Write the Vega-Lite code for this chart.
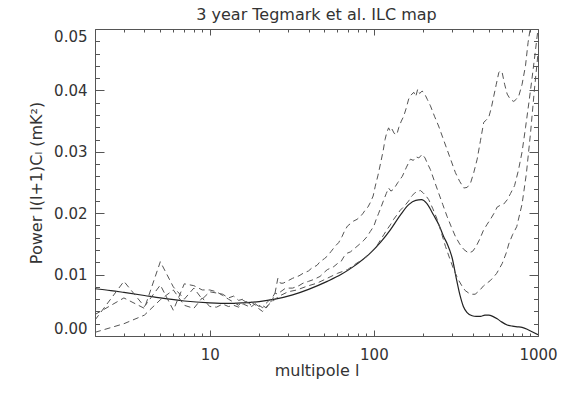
{
  "$schema": "https://vega.github.io/schema/vega-lite/v6.json",
  "width": 443,
  "height": 307,
  "autosize": {"type": "none"},
  "padding": {"left": 95, "top": 29, "right": 28, "bottom": 60},
  "background": "white",
  "title": {"text": "3 year Tegmark et al. ILC map", "font": "DejaVu Sans", "fontSize": 16, "fontWeight": "normal", "color": "#333", "offset": 6, "anchor": "middle"},
  "config": {
    "view": {"stroke": "#555", "strokeWidth": 1},
    "axis": {"grid": false, "labelFont": "DejaVu Sans", "titleFont": "DejaVu Sans", "labelColor": "#333", "titleColor": "#333", "domain": false, "tickColor": "#555", "titleFontWeight": "normal", "labelFontSize": 15, "titleFontSize": 16}
  },
  "datasets": {
    "solid": [
      {"l":2,"p":0.0077},{"l":2.5,"p":0.0074},{"l":3,"p":0.0071},{"l":4,"p":0.0066},{"l":5,"p":0.0062},{"l":7,"p":0.0057},{"l":10,"p":0.0054},{"l":13,"p":0.0053},{"l":16,"p":0.0054},{"l":20,"p":0.0056},{"l":25,"p":0.0060},{"l":32,"p":0.0067},{"l":40,"p":0.0076},{"l":52,"p":0.0089},{"l":63,"p":0.0100},{"l":75,"p":0.0113},{"l":95,"p":0.0135},{"l":110,"p":0.0153},{"l":126,"p":0.0173},{"l":145,"p":0.0197},{"l":163,"p":0.0214},{"l":180,"p":0.0221},{"l":195,"p":0.0222},{"l":210,"p":0.0216},{"l":231,"p":0.0197},{"l":250,"p":0.0180},{"l":266,"p":0.0162},{"l":280,"p":0.0150},{"l":300,"p":0.0127},{"l":320,"p":0.0090},{"l":335,"p":0.0066},{"l":351,"p":0.0048},{"l":370,"p":0.0038},{"l":397,"p":0.0033},{"l":420,"p":0.0032},{"l":446,"p":0.0032},{"l":475,"p":0.0034},{"l":501,"p":0.0034},{"l":530,"p":0.0032},{"l":564,"p":0.0028},{"l":600,"p":0.0023},{"l":649,"p":0.0018},{"l":700,"p":0.0016},{"l":747,"p":0.0015},{"l":800,"p":0.0014},{"l":859,"p":0.0011},{"l":920,"p":0.0007},{"l":1000,"p":0.0002}
    ],
    "upper": [
      {"l":2,"p":0.0035},{"l":3,"p":0.0062},{"l":4,"p":0.0045},{"l":5,"p":0.0121},{"l":6,"p":0.0080},{"l":7,"p":0.0060},{"l":8,"p":0.0078},{"l":9,"p":0.0060},{"l":10,"p":0.0072},{"l":11,"p":0.0070},{"l":12,"p":0.0068},{"l":13,"p":0.0062},{"l":14,"p":0.0065},{"l":15,"p":0.0058},{"l":16,"p":0.0060},{"l":17,"p":0.0055},{"l":18,"p":0.0050},{"l":19,"p":0.0052},{"l":20,"p":0.0048},{"l":21,"p":0.0050},{"l":22,"p":0.0046},{"l":23,"p":0.0053},{"l":24,"p":0.0058},{"l":25,"p":0.0070},{"l":26,"p":0.0094},{"l":27,"p":0.0086},{"l":28,"p":0.0086},{"l":29,"p":0.0088},{"l":30,"p":0.0090},{"l":32,"p":0.0094},{"l":35,"p":0.0098},{"l":37,"p":0.0102},{"l":40,"p":0.0106},{"l":42,"p":0.0111},{"l":45,"p":0.0115},{"l":47,"p":0.0121},{"l":50,"p":0.0126},{"l":52,"p":0.0130},{"l":55,"p":0.0138},{"l":58,"p":0.0146},{"l":61,"p":0.0152},{"l":64,"p":0.0162},{"l":66,"p":0.0170},{"l":69,"p":0.0179},{"l":72,"p":0.0183},{"l":75,"p":0.0187},{"l":79,"p":0.0190},{"l":83,"p":0.0195},{"l":86,"p":0.0200},{"l":89,"p":0.0206},{"l":92,"p":0.0210},{"l":95,"p":0.0217},{"l":99,"p":0.0228},{"l":102,"p":0.0244},{"l":106,"p":0.0262},{"l":110,"p":0.0282},{"l":114,"p":0.0302},{"l":117,"p":0.0320},{"l":120,"p":0.0332},{"l":123,"p":0.0339},{"l":126,"p":0.0333},{"l":129,"p":0.0337},{"l":133,"p":0.0330},{"l":138,"p":0.0328},{"l":142,"p":0.0340},{"l":147,"p":0.0350},{"l":152,"p":0.0358},{"l":157,"p":0.0370},{"l":163,"p":0.0386},{"l":168,"p":0.0392},{"l":175,"p":0.0397},{"l":180,"p":0.0390},{"l":185,"p":0.0402},{"l":190,"p":0.0395},{"l":197,"p":0.0399},{"l":205,"p":0.0393},{"l":212,"p":0.0385},{"l":221,"p":0.0375},{"l":234,"p":0.0358},{"l":248,"p":0.0342},{"l":263,"p":0.0323},{"l":279,"p":0.0304},{"l":296,"p":0.0285},{"l":314,"p":0.0266},{"l":333,"p":0.0252},{"l":353,"p":0.0241},{"l":370,"p":0.0242},{"l":388,"p":0.0249},{"l":406,"p":0.0266},{"l":426,"p":0.0288},{"l":446,"p":0.0318},{"l":467,"p":0.0348},{"l":485,"p":0.0352},{"l":501,"p":0.0356},{"l":520,"p":0.0372},{"l":538,"p":0.0391},{"l":557,"p":0.0410},{"l":577,"p":0.0429},{"l":590,"p":0.0432},{"l":605,"p":0.0429},{"l":626,"p":0.0410},{"l":649,"p":0.0394},{"l":680,"p":0.0385},{"l":712,"p":0.0382},{"l":740,"p":0.0386},{"l":764,"p":0.0391},{"l":800,"p":0.0410},{"l":839,"p":0.0440},{"l":870,"p":0.0478},{"l":896,"p":0.0500},{"l":950,"p":0.0530},{"l":1000,"p":0.0560}
    ],
    "middle": [
      {"l":2,"p":0.0026},{"l":3,"p":0.0089},{"l":4,"p":0.0048},{"l":5,"p":0.0083},{"l":6,"p":0.0042},{"l":7,"p":0.0085},{"l":8,"p":0.0082},{"l":9,"p":0.0075},{"l":10,"p":0.0075},{"l":11,"p":0.0072},{"l":12,"p":0.0066},{"l":13,"p":0.0060},{"l":14,"p":0.0055},{"l":15,"p":0.0050},{"l":16,"p":0.0058},{"l":17,"p":0.0054},{"l":18,"p":0.0048},{"l":19,"p":0.0053},{"l":20,"p":0.0050},{"l":21,"p":0.0046},{"l":22,"p":0.0053},{"l":23,"p":0.0058},{"l":24,"p":0.0062},{"l":25,"p":0.0070},{"l":26,"p":0.0068},{"l":27,"p":0.0072},{"l":29,"p":0.0078},{"l":32,"p":0.0078},{"l":35,"p":0.0082},{"l":37,"p":0.0086},{"l":40,"p":0.0089},{"l":43,"p":0.0092},{"l":47,"p":0.0097},{"l":50,"p":0.0104},{"l":52,"p":0.0108},{"l":57,"p":0.0113},{"l":60,"p":0.0118},{"l":63,"p":0.0121},{"l":66,"p":0.0130},{"l":69,"p":0.0135},{"l":72,"p":0.0137},{"l":75,"p":0.0141},{"l":79,"p":0.0146},{"l":83,"p":0.0151},{"l":87,"p":0.0156},{"l":91,"p":0.0162},{"l":95,"p":0.0170},{"l":100,"p":0.0179},{"l":103,"p":0.0189},{"l":107,"p":0.0200},{"l":111,"p":0.0211},{"l":115,"p":0.0222},{"l":119,"p":0.0232},{"l":123,"p":0.0241},{"l":127,"p":0.0236},{"l":132,"p":0.0239},{"l":140,"p":0.0250},{"l":149,"p":0.0260},{"l":158,"p":0.0275},{"l":167,"p":0.0288},{"l":174,"p":0.0286},{"l":180,"p":0.0292},{"l":188,"p":0.0290},{"l":197,"p":0.0296},{"l":205,"p":0.0290},{"l":212,"p":0.0281},{"l":221,"p":0.0271},{"l":234,"p":0.0252},{"l":248,"p":0.0233},{"l":263,"p":0.0214},{"l":279,"p":0.0195},{"l":296,"p":0.0178},{"l":314,"p":0.0162},{"l":333,"p":0.0150},{"l":353,"p":0.0141},{"l":378,"p":0.0135},{"l":400,"p":0.0138},{"l":420,"p":0.0146},{"l":442,"p":0.0158},{"l":465,"p":0.0172},{"l":490,"p":0.0182},{"l":513,"p":0.0190},{"l":540,"p":0.0200},{"l":564,"p":0.0210},{"l":590,"p":0.0213},{"l":619,"p":0.0215},{"l":650,"p":0.0222},{"l":680,"p":0.0232},{"l":720,"p":0.0245},{"l":760,"p":0.0270},{"l":800,"p":0.0300},{"l":840,"p":0.0340},{"l":880,"p":0.0380},{"l":920,"p":0.0420},{"l":960,"p":0.0460},{"l":1000,"p":0.0500}
    ],
    "lower": [
      {"l":2,"p":0.0006},{"l":3,"p":0.0020},{"l":4,"p":0.0034},{"l":5,"p":0.0059},{"l":6,"p":0.0075},{"l":7,"p":0.0050},{"l":8,"p":0.0045},{"l":9,"p":0.0062},{"l":10,"p":0.0048},{"l":11,"p":0.0047},{"l":12,"p":0.0052},{"l":13,"p":0.0048},{"l":14,"p":0.0050},{"l":15,"p":0.0047},{"l":16,"p":0.0052},{"l":17,"p":0.0049},{"l":18,"p":0.0055},{"l":19,"p":0.0050},{"l":20,"p":0.0044},{"l":21,"p":0.0040},{"l":22,"p":0.0045},{"l":23,"p":0.0052},{"l":24,"p":0.0055},{"l":25,"p":0.0060},{"l":27,"p":0.0066},{"l":30,"p":0.0072},{"l":34,"p":0.0075},{"l":39,"p":0.0081},{"l":45,"p":0.0086},{"l":52,"p":0.0094},{"l":60,"p":0.0102},{"l":69,"p":0.0108},{"l":79,"p":0.0119},{"l":85,"p":0.0124},{"l":91,"p":0.0130},{"l":100,"p":0.0141},{"l":105,"p":0.0148},{"l":110,"p":0.0157},{"l":115,"p":0.0165},{"l":120,"p":0.0173},{"l":126,"p":0.0181},{"l":132,"p":0.0190},{"l":138,"p":0.0197},{"l":145,"p":0.0205},{"l":154,"p":0.0212},{"l":163,"p":0.0220},{"l":170,"p":0.0228},{"l":176,"p":0.0232},{"l":182,"p":0.0235},{"l":192,"p":0.0237},{"l":200,"p":0.0233},{"l":208,"p":0.0228},{"l":216,"p":0.0222},{"l":229,"p":0.0207},{"l":243,"p":0.0190},{"l":258,"p":0.0168},{"l":273,"p":0.0146},{"l":290,"p":0.0126},{"l":307,"p":0.0108},{"l":325,"p":0.0093},{"l":345,"p":0.0081},{"l":360,"p":0.0074},{"l":378,"p":0.0070},{"l":395,"p":0.0068},{"l":414,"p":0.0068},{"l":440,"p":0.0074},{"l":467,"p":0.0082},{"l":511,"p":0.0090},{"l":540,"p":0.0097},{"l":560,"p":0.0102},{"l":605,"p":0.0118},{"l":640,"p":0.0135},{"l":664,"p":0.0150},{"l":700,"p":0.0165},{"l":742,"p":0.0178},{"l":800,"p":0.0215},{"l":850,"p":0.0265},{"l":900,"p":0.0330},{"l":950,"p":0.0400},{"l":1000,"p":0.0460}
    ]
  },
  "layer": [
    {
      "data": {"name": "solid"},
      "mark": {"type": "line", "color": "#222", "strokeWidth": 1.2, "interpolate": "monotone", "clip": true},
      "encoding": {
        "x": {"field": "l", "type": "quantitative", "scale": {"type": "log", "domain": [2, 1000], "nice": false},
              "axis": {"orient": "bottom", "values": [10, 100, 1000], "format": "d", "offset": -6, "tickSize": 6, "labelPadding": 11, "labelFlush": false, "title": "multipole l", "titlePadding": 0}},
        "y": {"field": "p", "type": "quantitative", "scale": {"domain": [0, 0.05], "nice": false, "zero": false},
              "axis": {"orient": "left", "values": [0, 0.01, 0.02, 0.03, 0.04, 0.05], "format": ".2f", "offset": -9, "tickSize": 9, "labelPadding": 8, "labelFlush": true, "title": "Power l(l+1)Cₗ (mK²)", "titlePadding": 9}}
      }
    },
    {
      "data": {"name": "upper"},
      "mark": {"type": "line", "color": "#555", "strokeWidth": 1, "strokeDash": [6, 4], "clip": true},
      "encoding": {
        "x": {"field": "l", "type": "quantitative", "axis": {"orient": "bottom", "values": [2,3,4,5,6,7,8,9,20,30,40,50,60,70,80,90,200,300,400,500,600,700,800,900], "offset": -3, "tickSize": 3, "labels": false, "title": null}},
        "y": {"field": "p", "type": "quantitative", "axis": {"orient": "left", "values": [0.002,0.004,0.006,0.008,0.012,0.014,0.016,0.018,0.022,0.024,0.026,0.028,0.032,0.034,0.036,0.038,0.042,0.044,0.046,0.048], "offset": -4.5, "tickSize": 4.5, "labels": false, "title": null}}
      }
    },
    {
      "data": {"name": "middle"},
      "mark": {"type": "line", "color": "#555", "strokeWidth": 1, "strokeDash": [6, 4], "clip": true},
      "encoding": {
        "x": {"field": "l", "type": "quantitative", "axis": {"orient": "top", "values": [10, 100, 1000], "offset": -6, "tickSize": 6, "labels": false, "title": null}},
        "y": {"field": "p", "type": "quantitative", "axis": {"orient": "right", "values": [0, 0.01, 0.02, 0.03, 0.04, 0.05], "offset": -9, "tickSize": 9, "labels": false, "title": null}}
      }
    },
    {
      "data": {"name": "lower"},
      "mark": {"type": "line", "color": "#555", "strokeWidth": 1, "strokeDash": [6, 4], "clip": true},
      "encoding": {
        "x": {"field": "l", "type": "quantitative", "axis": {"orient": "top", "values": [2,3,4,5,6,7,8,9,20,30,40,50,60,70,80,90,200,300,400,500,600,700,800,900], "offset": -3, "tickSize": 3, "labels": false, "title": null}},
        "y": {"field": "p", "type": "quantitative", "axis": {"orient": "right", "values": [0.002,0.004,0.006,0.008,0.012,0.014,0.016,0.018,0.022,0.024,0.026,0.028,0.032,0.034,0.036,0.038,0.042,0.044,0.046,0.048], "offset": -4.5, "tickSize": 4.5, "labels": false, "title": null}}
      }
    }
  ],
  "resolve": {"axis": {"x": "independent", "y": "independent"}}
}
